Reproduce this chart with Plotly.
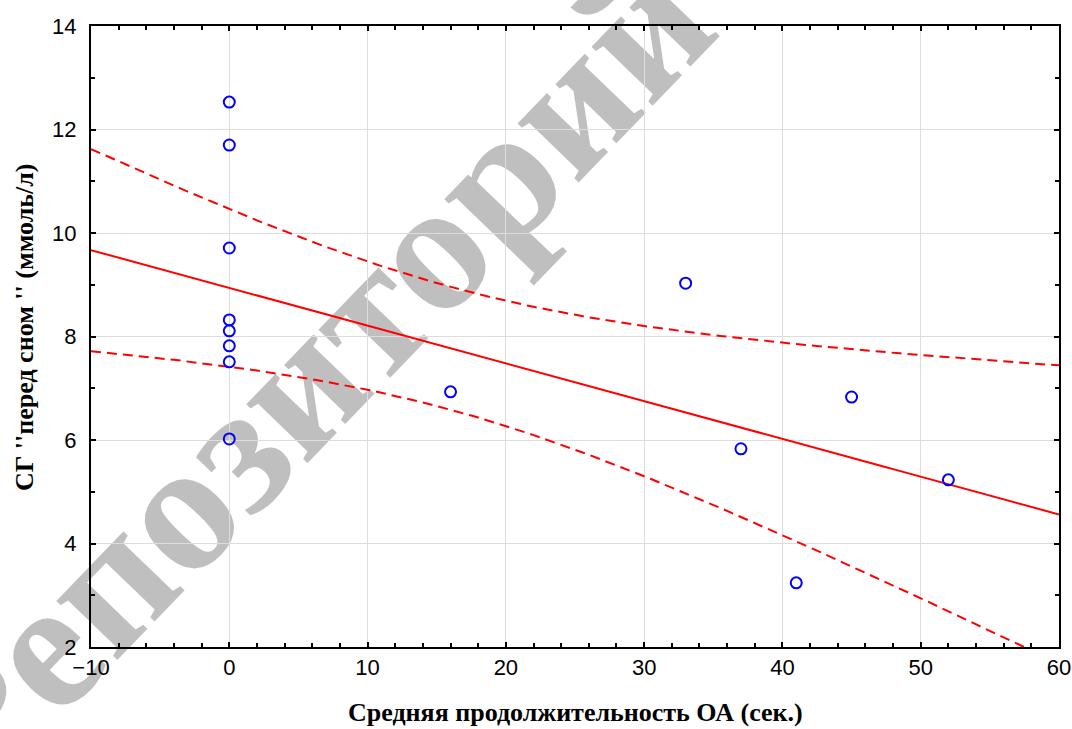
import numpy as np
import plotly.graph_objects as go

# Data
x_vals = [0, 0, 0, 0, 0, 0, 0, 0, 16, 33, 37, 41, 45, 52]
y_vals = [12.53, 11.70, 9.71, 8.32, 8.11, 7.82, 7.51, 6.02, 6.93, 9.03, 5.83, 3.24, 6.83, 5.23]
x_ticks = [-10, 0, 10, 20, 30, 40, 50, 60]
y_ticks = [2, 4, 6, 8, 10, 12, 14]
x_title = "Средняя продолжительность ОА (сек.)"
y_title = "СГ ''перед сном '' (ммоль/л)"
watermark = "Репозиторий"
T_975_DF12 = 2.179  # Student t quantile for 95% CI, n-2 = 12

x = np.array(x_vals, dtype=float)
y = np.array(y_vals, dtype=float)
n = len(x)
slope, intercept = np.polyfit(x, y, 1)
resid = y - (slope * x + intercept)
s = np.sqrt(np.sum(resid ** 2) / (n - 2))
sxx = np.sum((x - x.mean()) ** 2)
xl = np.linspace(-10, 60, 141)
yl = slope * xl + intercept
half = T_975_DF12 * s * np.sqrt(1.0 / n + (xl - x.mean()) ** 2 / sxx)

fig = go.Figure()
fig.add_trace(go.Scatter(x=xl, y=yl, mode="lines",
                         line=dict(color="#ff0000", width=2), showlegend=False))
fig.add_trace(go.Scatter(x=xl, y=yl + half, mode="lines",
                         line=dict(color="#ff0000", width=2, dash="10px,6px"), showlegend=False))
fig.add_trace(go.Scatter(x=xl, y=yl - half, mode="lines",
                         line=dict(color="#ff0000", width=2, dash="10px,6px"), showlegend=False))
fig.add_trace(go.Scatter(x=x_vals, y=y_vals, mode="markers",
                         marker=dict(symbol="circle-open", size=11, color="#0000ff",
                                     line=dict(width=2, color="#0000ff")),
                         showlegend=False, cliponaxis=False))

axis_common = dict(
    showline=True, linecolor="black", linewidth=2, mirror="ticks",
    ticks="inside", ticklen=5, tickwidth=2, tickcolor="black",
    showgrid=True, gridcolor="#dddddd", gridwidth=1, zeroline=False,
    automargin=False,
    tickfont=dict(family="Liberation Sans, Arial", size=22, color="black"),
)

fig.update_xaxes(range=[-10, 60], tickvals=x_ticks, **axis_common,
                 minor=dict(dtick=2, ticks="inside", ticklen=4, tickwidth=2,
                            tickcolor="black", showgrid=False))
fig.update_yaxes(range=[2, 14], tickvals=y_ticks, **axis_common, ticklabelstandoff=8,
                 minor=dict(dtick=1, ticks="inside", ticklen=4, tickwidth=2,
                            tickcolor="black", showgrid=False))

title_font = dict(family="Liberation Serif, Times New Roman", size=26, color="black")
fig.add_annotation(text="<b>" + x_title + "</b>", xref="paper", yref="paper",
                   x=0.5, y=-0.1047, xanchor="center", yanchor="middle",
                   showarrow=False, font=title_font)
fig.add_annotation(text="<b>" + y_title + "</b>", xref="paper", yref="paper",
                   x=-0.068, y=0.514, xanchor="center", yanchor="middle",
                   showarrow=False, textangle=-90, font=title_font)

# Watermark drawn beneath the data (shape label in the lower layer)
fig.add_shape(type="rect", xref="paper", yref="paper",
              x0=0.198, x1=0.218, y0=0.452, y1=0.472, layer="below",
              line=dict(width=0), fillcolor="rgba(0,0,0,0)",
              label=dict(text=watermark, textangle=-46, textposition="middle center",
                         padding=0,
                         font=dict(family="Liberation Serif, Times New Roman", size=185,
                                   weight="bold", color="rgba(0,0,0,0.25)")))

fig.update_layout(
    width=1072, height=729,
    margin=dict(l=91, r=13, t=26, b=82),
    paper_bgcolor="white", plot_bgcolor="white",
)

fig.write_html("out.html", config={"displayModeBar": False},
               post_script="document.body.style.margin='0';document.body.style.overflow='hidden';")
